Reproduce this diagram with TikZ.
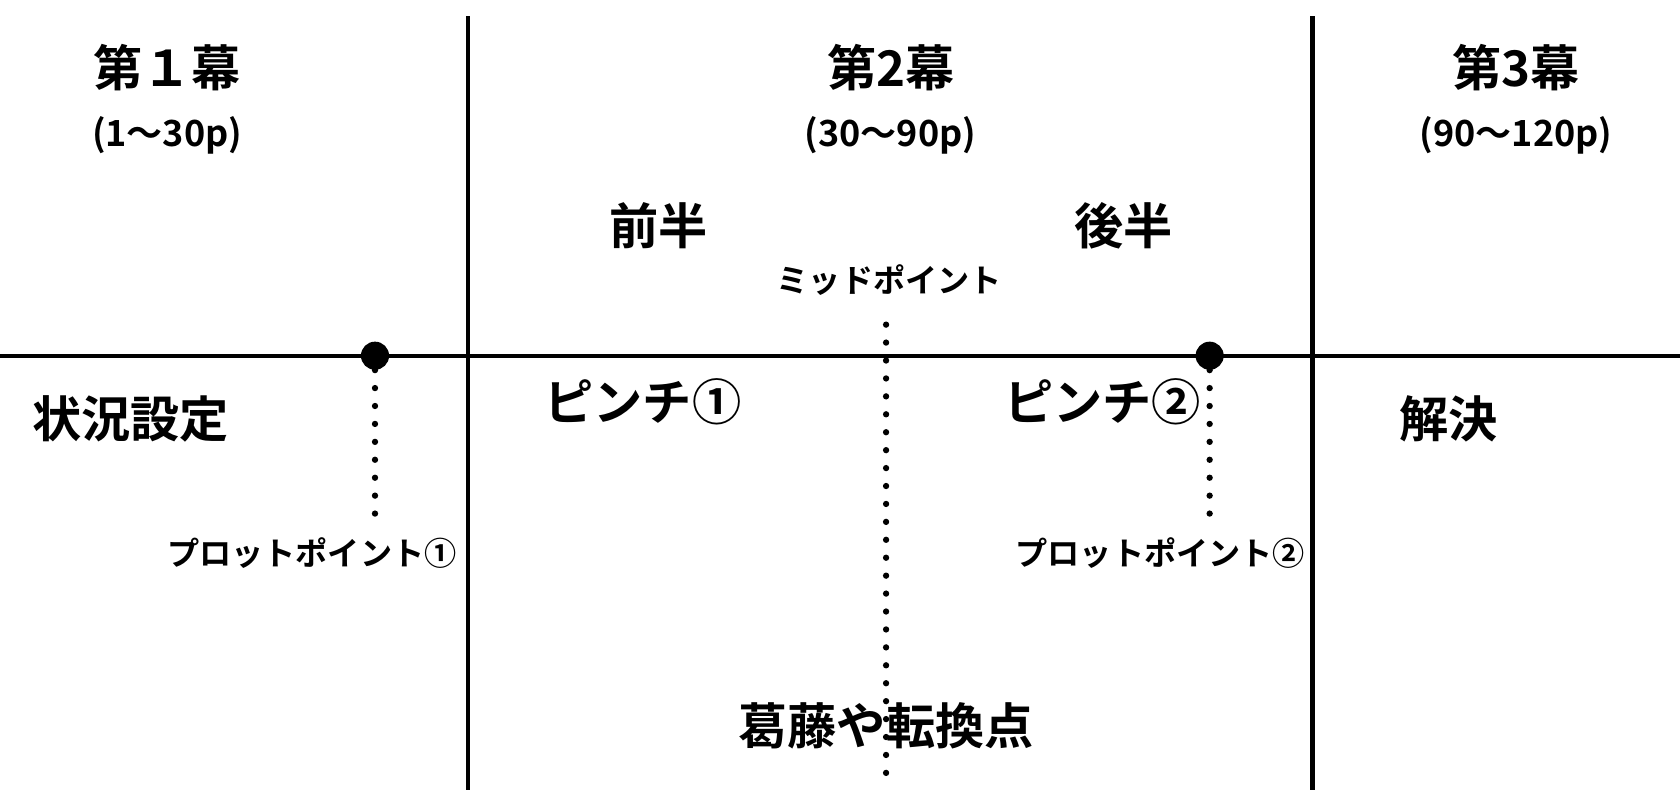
\documentclass[tikz,border=0pt]{standalone}
\usepackage{fontspec}
\setmainfont{Noto Sans CJK JP}[BoldFont={Noto Sans CJK JP Bold}]
\usetikzlibrary{positioning}

\tikzset{
    big/.style={font=\fontsize{28pt}{32pt}\selectfont\bfseries},
    sub/.style={font=\fontsize{20.5pt}{24pt}\selectfont\bfseries},
    small/.style={font=\fontsize{18.3pt}{21pt}\selectfont\bfseries},
    pt/.style={shape=circle, fill=black, inner sep=0pt, minimum size=16pt},
    bar/.style={line width=2.3pt},
    dotline/.style={line width=3.6pt, line cap=round, dash pattern=on 0pt off 10.2pt}
}

\begin{document}
\begin{tikzpicture}[x=0.021429cm, y=-0.021429cm]
        \useasboundingbox (0,0) rectangle (1568,737.3);

        \coordinate (L) at (0,332);
        \coordinate (R) at (1568,332);
        \coordinate (A1) at (437,15);
        \coordinate (A1b) at (437,737.3);
        \coordinate (A2) at (1225,15);
        \coordinate (A2b) at (1225,737.3);

        \draw[bar] (L) -- (R);
        \draw[bar] (A1) -- (A1b);
        \draw[bar] (A2) -- (A2b);

        \node[big] (act1) at (156,63) {第１幕};
        \node[big] (act2) at (832,63) {第2幕};
        \node[big] (act3) at (1415,63) {第3幕};
        \node[sub] (pg1) at (156,126) {(1〜30p)};
        \node[sub] (pg2) at (831,126) {(30〜90p)};
        \node[sub] (pg3) at (1415,126) {(90〜120p)};

        \node[big] (first) at (615,211) {前半};
        \node[big] (second) at (1049,211) {後半};
        \node[small] (mid) at (830,261) {ミッドポイント};

        \node[big] (setup) at (122,391) {状況設定};
        \node[big] (pinch1) at (600,375) {ピンチ①};
        \node[big] (pinch2) at (1029,375) {ピンチ②};
        \node[big] (end) at (1352,391) {解決};
        \node[big] (turn) at (827,677) {葛藤や転換点};

        \node[pt] (pp1) at (350,332) {};
        \node[pt] (pp2) at (1129,332) {};
        \coordinate (pp1e) at (350,490);
        \coordinate (pp2e) at (1129,490);
        \coordinate (mt) at (827,303);
        \coordinate (mb) at (827,730);

        \draw[dotline] (pp1) -- (pp1e);
        \draw[dotline] (pp2) -- (pp2e);
        \draw[dotline] (mt) -- (mb);

        \node[small] (plot1) at (291,516) {プロットポイント①};
        \node[small] (plot2) at (1083,516) {プロットポイント②};
    \end{tikzpicture}
\end{document}
